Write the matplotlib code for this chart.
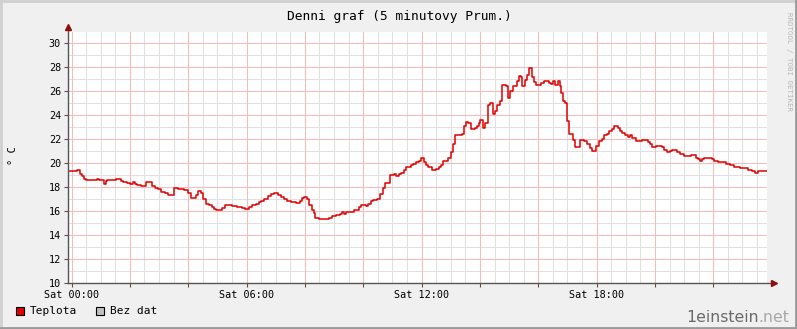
import matplotlib
matplotlib.use("Agg")
import matplotlib.pyplot as plt
from matplotlib.lines import Line2D
from matplotlib.patches import Rectangle
import numpy as np

# step breakpoints: hour since Sat 00:00 -> temperature (value holds until next hour)
hours = [-0.10, 0.20, 0.28, 0.35, 0.42, 0.51, 0.89, 0.95, 1.10, 1.17, 1.23, 1.51, 1.70, 1.77,
         1.91, 2.00, 2.10, 2.16, 2.23, 2.37, 2.54, 2.75, 2.85, 2.96, 3.08, 3.19, 3.30, 3.44,
         3.51, 3.64, 3.85, 4.01, 4.10, 4.26, 4.33, 4.45, 4.51, 4.60, 4.71, 4.80, 4.87, 4.94,
         5.17, 5.26, 5.51, 5.68, 5.83, 5.94, 6.10, 6.19, 6.33, 6.42, 6.51, 6.61, 6.72, 6.83,
         6.95, 7.09, 7.18, 7.29, 7.40, 7.52, 7.68, 7.84, 7.91, 7.98, 8.07, 8.14, 8.23, 8.30,
         8.36, 8.48, 8.82, 8.94, 9.07, 9.21, 9.28, 9.35, 9.42, 9.51, 9.67, 9.85, 9.92, 10.08,
         10.17, 10.26, 10.35, 10.47, 10.58, 10.67, 10.76, 10.93, 11.06, 11.11, 11.22, 11.29,
         11.41, 11.45, 11.63, 11.72, 11.82, 11.91, 11.97, 12.09, 12.14, 12.23, 12.34, 12.50,
         12.59, 12.68, 12.75, 12.89, 13.00, 13.07, 13.16, 13.39, 13.44, 13.53, 13.60, 13.69,
         13.83, 13.89, 13.96, 14.01, 14.10, 14.17, 14.29, 14.35, 14.44, 14.51, 14.60, 14.70,
         14.77, 14.88, 14.95, 15.04, 15.13, 15.27, 15.33, 15.40, 15.45, 15.54, 15.63, 15.68,
         15.77, 15.86, 15.93, 16.09, 16.21, 16.36, 16.43, 16.52, 16.59, 16.66, 16.73, 16.77,
         16.84, 16.91, 16.98, 17.07, 17.19, 17.25, 17.44, 17.58, 17.67, 17.78, 17.85, 17.99,
         18.08, 18.17, 18.26, 18.35, 18.44, 18.54, 18.60, 18.72, 18.79, 18.88, 18.97, 19.08,
         19.15, 19.22, 19.34, 19.56, 19.75, 19.82, 19.91, 20.02, 20.23, 20.32, 20.41, 20.52,
         20.59, 20.77, 20.87, 21.00, 21.12, 21.23, 21.42, 21.46, 21.53, 21.62, 21.69, 21.85,
         21.94, 22.03, 22.15, 22.31, 22.42, 22.58, 22.72, 22.92, 23.06, 23.20, 23.34, 23.42,
         23.52, 23.86]
teplota = [19.3, 19.4, 19.1, 18.9, 18.7, 18.6, 18.7, 18.6, 18.25, 18.5, 18.6, 18.7, 18.5, 18.45,
           18.35, 18.25, 18.4, 18.25, 18.15, 18.1, 18.4, 18.1, 17.95, 17.8, 17.6, 17.5, 17.35, 17.3,
           17.9, 17.8, 17.75, 17.5, 17.1, 17.3, 17.7, 17.5, 17.0, 16.55, 16.5, 16.35, 16.15, 16.1,
           16.25, 16.5, 16.45, 16.35, 16.25, 16.15, 16.3, 16.5, 16.6, 16.75, 16.85, 17.0, 17.25, 17.4,
           17.5, 17.35, 17.15, 17.0, 16.85, 16.75, 16.65, 16.85, 17.05, 17.15, 17.0, 16.5, 16.1, 15.85,
           15.45, 15.35, 15.45, 15.55, 15.65, 15.75, 15.9, 15.75, 15.9, 15.9, 16.05, 16.3, 16.5, 16.4,
           16.6, 16.8, 16.9, 17.0, 17.45, 17.95, 18.35, 19.0, 19.1, 18.95, 19.05, 19.2,
           19.4, 19.65, 19.8, 19.9, 20.05, 20.2, 20.4, 20.05, 19.85, 19.65, 19.45, 19.5,
           19.7, 19.8, 20.2, 20.4, 20.9, 21.55, 22.3, 22.4, 23.05, 23.45, 23.3, 22.8,
           22.9, 23.1, 23.35, 23.6, 22.95, 23.3, 24.85, 25.0, 24.1, 24.3, 24.8, 25.15,
           26.5, 26.4, 25.4, 26.0, 26.45, 26.85, 27.25, 27.15, 26.4, 26.9, 27.3, 27.9,
           27.2, 26.75, 26.5, 26.7, 26.85, 26.7, 26.6, 26.8, 26.5, 26.85, 26.4, 25.8,
           25.2, 25.0, 23.5, 22.4, 21.9, 21.35, 21.95, 21.8, 21.6, 21.25, 21.0, 21.4,
           21.8, 22.0, 22.3, 22.45, 22.7, 22.8, 23.05, 22.9, 22.7, 22.5, 22.3, 22.2,
           22.3, 22.1, 21.8, 21.9, 21.75, 21.6, 21.35, 21.4, 21.35, 21.1, 20.9, 21.0,
           21.1, 20.9, 20.75, 20.6, 20.55, 20.65, 20.45, 20.3, 20.2, 20.35, 20.45, 20.4,
           20.3, 20.2, 20.1, 20.05, 19.9, 19.8, 19.7, 19.6, 19.55, 19.4, 19.3, 19.2,
           19.3, 19.3]

x_labels = ["Sat 00:00", "Sat 06:00", "Sat 12:00", "Sat 18:00"]
x_label_pos = [0, 6, 12, 18]
y_ticks = list(range(10, 31, 2))

W, H = 797, 329
mono = "DejaVu Sans Mono"
bg = "#f0f0f0"

fig = plt.figure(figsize=(W / 100, H / 100), dpi=100, facecolor=bg)
# plot area in pixels: x 68..767, y 32..283
ax = fig.add_axes([68 / W, (H - 283) / H, (767 - 68) / W, (283 - 32) / H])
ax.set_facecolor("white")
ax.set_xlim(-0.12, 23.84)
ax.set_ylim(10, 30.92)

# grid
for h in np.arange(0, 24, 0.5):
    if h % 2 == 0:
        ax.axvline(h, color="#f5bcbc", lw=0.75, zorder=1)
    else:
        ax.axvline(h, color="#e0e0e0", lw=0.75, zorder=0.5)
for v in range(10, 31):
    if v % 2 == 0:
        ax.axhline(v, color="#f5bcbc", lw=0.75, zorder=1)
    else:
        ax.axhline(v, color="#e0e0e0", lw=0.75, zorder=0.5)

ax.step(hours, teplota, where="post", color="#e00000", lw=1.1, zorder=3)

for s in ax.spines.values():
    s.set_visible(False)

ax.set_yticks(y_ticks)
ax.set_yticklabels([str(v) for v in y_ticks], fontfamily=mono, fontsize=7.3)
ax.set_xticks(np.arange(0, 24, 2))
ax.set_xticklabels([x_labels[x_label_pos.index(h)] if h in x_label_pos else "" for h in range(0, 24, 2)],
                   fontfamily=mono, fontsize=7.3)
ax.tick_params(axis="both", length=3, width=0.8, color="#555555", pad=2)

# axis lines with arrows
ax.add_line(Line2D([0, 0], [0, 1.02], transform=ax.transAxes, color="#555555", lw=1, clip_on=False, zorder=4))
ax.add_line(Line2D([0, 1.008], [0, 0], transform=ax.transAxes, color="#555555", lw=1, clip_on=False, zorder=4))
ax.plot([0], [1.02], marker="^", ms=4, color="#8b1010", transform=ax.transAxes, clip_on=False, zorder=5)
ax.plot([1.01], [0], marker=">", ms=4, color="#8b1010", transform=ax.transAxes, clip_on=False, zorder=5)

fig.text(399 / W, 1 - 16.5 / H, "Denni graf (5 minutovy Prum.)", family=mono, fontsize=9.3,
         ha="center", va="center")
fig.text(13 / W, 1 - 156 / H, "° C", family=mono, fontsize=7.5, rotation=90, ha="center", va="center")
fig.text(789 / W, 1 - 62 / H, "RRDTOOL / TOBI OETIKER", family=mono, fontsize=5.4, color="#b8b8b8",
         rotation=270, ha="center", va="center")

# legend
fig.add_artist(Rectangle((16 / W, (H - 315) / H), 8 / W, 8 / H, facecolor="#e00000",
                         edgecolor="black", lw=0.8, transform=fig.transFigure))
fig.text(30 / W, 1 - 311 / H, "Teplota", family=mono, fontsize=8, va="center")
fig.add_artist(Rectangle((96 / W, (H - 315) / H), 8 / W, 8 / H, facecolor="#c0c0c0",
                         edgecolor="black", lw=0.8, transform=fig.transFigure))
fig.text(110 / W, 1 - 311 / H, "Bez dat", family=mono, fontsize=8, va="center")

# watermark
t1 = fig.text(686 / W, 1 - 318 / H, "1einstein", family="DejaVu Sans", fontsize=11.3, color="#6a6a6a",
              va="center")
fig.canvas.draw()
bb = t1.get_window_extent()
fig.text(bb.x1 / W, 1 - 318 / H, ".net", family="DejaVu Sans", fontsize=11.3, color="#a8a8a8", va="center")

# 3d border
fig.add_artist(Line2D([0, 1], [1 - 1 / H, 1 - 1 / H], transform=fig.transFigure, color="#d0d0d0", lw=2))
fig.add_artist(Line2D([1 / W, 1 / W], [0, 1], transform=fig.transFigure, color="#d0d0d0", lw=2))
fig.add_artist(Line2D([0, 1], [1 / H, 1 / H], transform=fig.transFigure, color="#9a9a9a", lw=2))
fig.add_artist(Line2D([1 - 1 / W, 1 - 1 / W], [0, 1], transform=fig.transFigure, color="#9a9a9a", lw=2))

fig.savefig("out.png", dpi=100, facecolor=bg)
